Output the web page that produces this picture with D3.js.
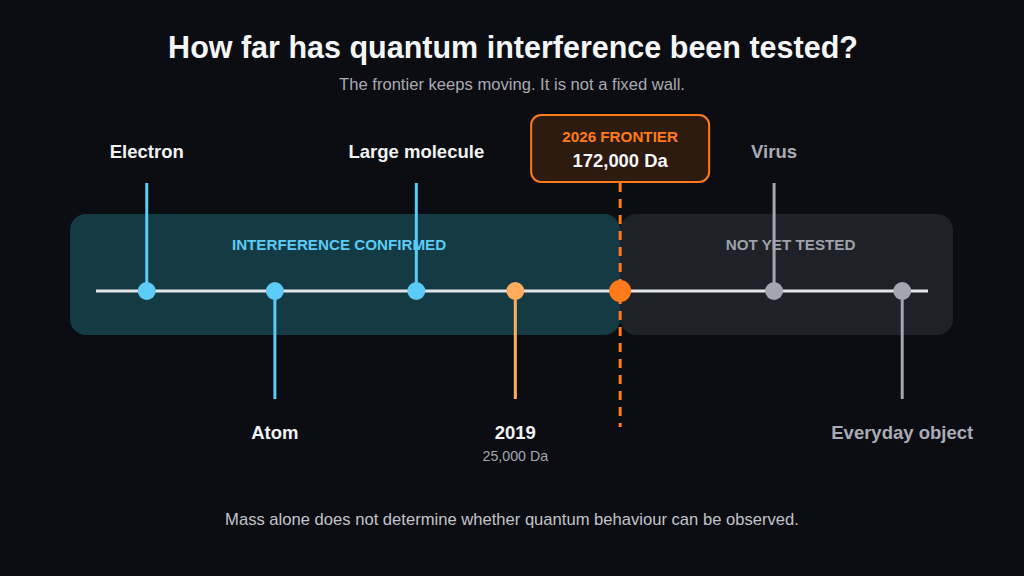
<!DOCTYPE html>
<html>
<head>
<meta charset="utf-8">
<script src="https://cdn.jsdelivr.net/npm/d3@7"></script>
<style>
  html, body { margin: 0; padding: 0; background: #0c0d12; }
  svg { display: block; font-family: "Liberation Sans", Arial, sans-serif; }
</style>
</head>
<body>
<script>
// milestones along the timeline (position on a 0-100 track)
var names = ["Electron", "Atom", "Large molecule", "2019", "Virus", "Everyday object"];
var positions = [6.1, 21.5, 38.5, 50.4, 81.5, 96.9];
var sides = ["up", "down", "up", "down", "up", "down"];
var kinds = ["confirmed", "confirmed", "confirmed", "record", "untested", "untested"];
var subLabels = ["", "", "", "25,000 Da", "", ""];

var frontierPos = 63.0;
var frontierTitle = "2026 FRONTIER";
var frontierValue = "172,000 Da";

var regionNames = ["INTERFERENCE CONFIRMED", "NOT YET TESTED"];

var title = "How far has quantum interference been tested?";
var subtitle = "The frontier keeps moving. It is not a fixed wall.";
var footer = "Mass alone does not determine whether quantum behaviour can be observed.";

var width = 1024, height = 576;
var axis_y = 291;
var stem_len = 108;

var colors = {
  confirmed: "#5ccbf7",
  record: "#ffad5c",
  untested: "#a3a6af",
  frontier: "#ff7a1a"
};
var labelColors = {
  confirmed: "#f2f3f5",
  record: "#f2f3f5",
  untested: "#a9acb4"
};

var x = d3.scaleLinear().domain([0, 100]).range([96, 928]);

var svg = d3.select("body").append("svg")
  .attr("width", width).attr("height", height);

svg.append("rect").attr("width", width).attr("height", height).attr("fill", "#0c0d12");

// titles
svg.append("text").text(title)
  .attr("x", width / 2 + 1).attr("y", 58)
  .attr("text-anchor", "middle")
  .style("font-size", "30.5px").style("font-weight", "bold")
  .attr("fill", "#f5f6f8");
svg.append("text").text(subtitle)
  .attr("x", width / 2).attr("y", 90)
  .attr("text-anchor", "middle")
  .style("font-size", "16.6px")
  .attr("fill", "#a8abb3");

// region panels
var fx = x(frontierPos);
var regions = [
  { x0: 70, x1: fx, fill: "#143b44", text: "#5ccbf7", name: regionNames[0], dx: -6 },
  { x0: fx, x1: 953, fill: "#1f2129", text: "#9ea1aa", name: regionNames[1], dx: 4 }
];
var rg = svg.append("g");
rg.selectAll("rect").data(regions).enter().append("rect")
  .attr("x", function(d) { return d.x0; })
  .attr("y", 214)
  .attr("width", function(d) { return d.x1 - d.x0; })
  .attr("height", 121)
  .attr("rx", 16)
  .attr("fill", function(d) { return d.fill; });
rg.selectAll("text").data(regions).enter().append("text")
  .text(function(d) { return d.name; })
  .attr("x", function(d) { return (d.x0 + d.x1) / 2 + d.dx; })
  .attr("y", 249.5)
  .attr("text-anchor", "middle")
  .style("font-size", "15.2px").style("font-weight", "bold")
  .attr("fill", function(d) { return d.text; });

// main axis line
svg.append("line")
  .attr("x1", x(0)).attr("x2", x(100))
  .attr("y1", axis_y).attr("y2", axis_y)
  .attr("stroke", "#e4e5e9").attr("stroke-width", 3);

var milestones = names.map(function(n, i) {
  return { name: n, pos: positions[i], side: sides[i], kind: kinds[i], sub: subLabels[i] };
});

var mg = svg.append("g");
var m = mg.selectAll("g").data(milestones).enter().append("g");

m.append("line")
  .attr("x1", function(d) { return x(d.pos); })
  .attr("x2", function(d) { return x(d.pos); })
  .attr("y1", axis_y)
  .attr("y2", function(d) { return d.side === "up" ? axis_y - stem_len : axis_y + stem_len; })
  .attr("stroke", function(d) { return colors[d.kind]; })
  .attr("stroke-width", 3);

m.append("circle")
  .attr("cx", function(d) { return x(d.pos); })
  .attr("cy", axis_y)
  .attr("r", 9)
  .attr("fill", function(d) { return colors[d.kind]; });

m.append("text")
  .text(function(d) { return d.name; })
  .attr("x", function(d) { return x(d.pos); })
  .attr("y", function(d) { return d.side === "up" ? 157.5 : 438.5; })
  .attr("text-anchor", "middle")
  .style("font-size", "18.5px").style("font-weight", "bold")
  .attr("fill", function(d) { return labelColors[d.kind]; });

m.filter(function(d) { return d.sub; }).append("text")
  .text(function(d) { return d.sub; })
  .attr("x", function(d) { return x(d.pos); })
  .attr("y", 461)
  .attr("text-anchor", "middle")
  .style("font-size", "14.2px")
  .attr("fill", "#a3a6af");

// frontier marker
var fg = svg.append("g");
fg.append("line")
  .attr("x1", fx).attr("x2", fx)
  .attr("y1", 183).attr("y2", 427)
  .attr("stroke", colors.frontier).attr("stroke-width", 3)
  .attr("stroke-dasharray", "9,7");
fg.append("circle")
  .attr("cx", fx).attr("cy", axis_y).attr("r", 11)
  .attr("fill", colors.frontier);
fg.append("rect")
  .attr("x", fx - 89).attr("y", 115)
  .attr("width", 178).attr("height", 67)
  .attr("rx", 10)
  .attr("fill", "#2e1b10")
  .attr("stroke", colors.frontier).attr("stroke-width", 2);
fg.append("text").text(frontierTitle)
  .attr("x", fx).attr("y", 142)
  .attr("text-anchor", "middle")
  .style("font-size", "15.2px").style("font-weight", "bold")
  .attr("fill", colors.frontier);
fg.append("text").text(frontierValue)
  .attr("x", fx).attr("y", 166.5)
  .attr("text-anchor", "middle")
  .style("font-size", "18.4px").style("font-weight", "bold")
  .attr("fill", "#f5f6f8");

// footer
svg.append("text").text(footer)
  .attr("x", width / 2).attr("y", 525)
  .attr("text-anchor", "middle")
  .style("font-size", "16.6px")
  .attr("fill", "#c2c4ca");
</script>
</body>
</html>
